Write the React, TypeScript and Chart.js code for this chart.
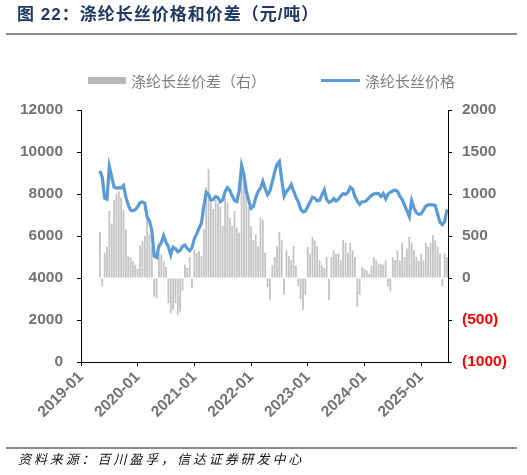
import React, { useEffect, useRef } from "react";
import { Chart, registerables } from "chart.js";

Chart.register(...registerables);

// Observations every half month, starting 2019-05-01
const START_YEAR = 2019;
const START_MONTH = 5;

// 涤纶长丝价格 (元/吨), left axis
const priceValues = [
  9100, 8800, 7800, 7750, 9300, 8820, 8330, 8280, 8300, 8280,
  8400, 7850, 7480, 7230, 7200, 7250, 7400, 7590, 7620, 7570,
  6900, 6720, 6250, 5050, 4980, 5520, 5680, 6020, 5710, 5480,
  5100, 5470, 5400, 5250, 5320, 5510, 5570, 5400, 5290, 5450,
  5880, 6100, 6370, 6620, 7420, 8080, 7980, 7700, 7740, 7880,
  7820, 7630, 7720, 8110, 8300, 8180, 7900, 7700, 7640, 8180,
  9350, 8930, 8120, 7700, 7320, 7400, 7830, 8130, 8270, 8600,
  8250, 7970, 8150, 8590, 9040, 9420, 9550, 8670, 7900, 8130,
  8240, 8450, 8150, 7850, 7640, 7290, 7150, 7180, 7400, 7620,
  7850, 7810, 7670, 7700, 7950, 8200, 7740, 7600, 7650, 7780,
  7660, 7750, 7900, 8020, 7980, 8080, 8330, 8230, 7880, 7660,
  7500, 7630, 7630, 7700, 7830, 7940, 8000, 8030, 8020, 7880,
  8020, 7770, 8000, 8080, 8140, 8190, 8130, 7900, 7740, 7470,
  7210, 6930, 7680, 7340, 7110, 7030, 7060, 7230, 7420, 7480,
  7480, 7480, 7450, 7050, 6650, 6540, 6700, 7270,
];

// 涤纶长丝价差 (元/吨), right axis
const spreadValues = [
  550, -100, 300, 370, 800, 650, 930, 1000, 1030, 960,
  810, 580, 260, 250, 200, 160, 110, 380, 440, 500,
  720, 520, 380, -220, -240, 300, 280, 200, 130, -300,
  -420, -380, -300, -440, -400, -150, 160, 120, 250, -120,
  340, 300, 320, 260, 580, 1080, 1300, 900, 820, 930,
  890, 850, 620, 970, 900, 720, 620, 800, 600, 540,
  1400, 1200, 1080, 850, 620, 450, 520, 380, 720, 690,
  300, -110, -260, 150, 250, 380, 550, 450, -200, 330,
  260, 210, 380, 150, -100, -250, -380, -200, 370, 290,
  490, 450, 380, 210, 150, 120, 250, -260, 250, 330,
  290, 290, 210, 450, 420, 300, 420, 330, 250, -340,
  -200, 130, 110, 90, 50, 150, 250, 210, 170, 170,
  160, 210, -100, -160, 250, 210, 330, 210, 420, 250,
  350, 490, 420, 330, 250, 200, 290, 210, 420, 370,
  420, 510, 450, 370, 290, -100, 290, 250,
];

const xTickLabels = ["2019-01", "2020-01", "2021-01", "2022-01", "2023-01", "2024-01", "2025-01"];
const leftTickRange = [0, 12000, 2000];
const rightTickRange = [-1000, 2000, 500];
const X_END = "2025-06-22";

const seriesNames = ["涤纶长丝价差（右）", "涤纶长丝价格"];

const dates = priceValues.map((_, i) => {
  const m = START_MONTH - 1 + Math.floor(i / 2);
  const y = START_YEAR + Math.floor(m / 12);
  const mm = (m % 12) + 1;
  const d = i % 2 === 0 ? 1 : 16;
  return `${y}-${String(mm).padStart(2, "0")}-${String(d).padStart(2, "0")}`;
});

// months since 2019-01-01
const toX = (s: string) => {
  const [y, m, d] = s.split("-").map(Number);
  return (y - 2019) * 12 + (m - 1) + (d - 1) / 30;
};

const GRAY = "#737373";
const TICK_FONT = { family: "'Liberation Sans', Arial, sans-serif", size: 15.5, weight: "bold" as const };

export default function App() {
  const ref = useRef<HTMLCanvasElement>(null);

  useEffect(() => {
    document.body.style.margin = "0";
    const axisGrid = {
      drawOnChartArea: false,
      drawTicks: true,
      tickLength: 4,
      color: "#000",
      lineWidth: 1,
    };
    const chart = new Chart(ref.current!, {
      type: "line",
      data: {
        datasets: [
          {
            type: "line",
            label: seriesNames[1],
            data: dates.map((d, i) => ({ x: toX(d), y: priceValues[i] })),
            yAxisID: "y",
            borderColor: "#5b9bd5",
            backgroundColor: "#5b9bd5",
            borderWidth: 3.2,
            pointRadius: 0,
            tension: 0,
            order: 1,
          } as any,
          {
            type: "bar",
            label: seriesNames[0],
            data: dates.map((d, i) => ({ x: toX(d), y: spreadValues[i] })),
            yAxisID: "y1",
            backgroundColor: "#c3c3c3",
            borderWidth: 0,
            barPercentage: 0.75,
            categoryPercentage: 1,
            order: 2,
          } as any,
        ],
      },
      options: {
        responsive: false,
        maintainAspectRatio: false,
        animation: false,
        layout: { padding: { top: 110, left: 0, right: 0, bottom: 0 } },
        plugins: { legend: { display: false }, tooltip: { enabled: false } },
        scales: {
          x: {
            type: "linear",
            min: 0,
            max: toX(X_END),
            offset: false,
            afterBuildTicks: (s: any) => {
              s.ticks = xTickLabels.map((l) => ({ value: toX(l + "-01") }));
            },
            afterFit: (s: any) => {
              s.height = 113;
            },
            ticks: {
              autoSkip: false,
              minRotation: 45,
              maxRotation: 45,
              color: GRAY,
              font: TICK_FONT,
              padding: 2,
              callback: (v: any) => {
                const idx = xTickLabels.findIndex((l) => Math.abs(toX(l + "-01") - Number(v)) < 0.01);
                return idx >= 0 ? xTickLabels[idx] : "";
              },
            },
            grid: { ...axisGrid, offset: false },
            border: { display: true, color: "#000", width: 1 },
          },
          y: {
            position: "left",
            min: leftTickRange[0],
            max: leftTickRange[1],
            afterFit: (s: any) => {
              s.width = 81;
            },
            ticks: {
              stepSize: leftTickRange[2],
              color: GRAY,
              font: TICK_FONT,
              padding: 14,
              callback: (v: any) => String(v),
            },
            grid: axisGrid,
            border: { display: true, color: "#000", width: 1 },
          },
          y1: {
            position: "right",
            min: rightTickRange[0],
            max: rightTickRange[1],
            afterFit: (s: any) => {
              s.width = 527 - 448;
            },
            ticks: {
              stepSize: rightTickRange[2],
              color: (ctx: any) => (ctx.tick && ctx.tick.value < 0 ? "#ff0000" : GRAY),
              font: TICK_FONT,
              padding: 10,
              callback: (v: any) => (Number(v) < 0 ? `(${-Number(v)})` : String(v)),
            },
            grid: axisGrid,
            border: { display: true, color: "#000", width: 1 },
          },
        },
      } as any,
    });
    return () => chart.destroy();
  }, []);

  const cjk = "'Noto Sans CJK SC', 'Liberation Sans', sans-serif";

  return (
    <div style={{ position: "relative", width: 527, height: 475, background: "#fff", overflow: "hidden" }}>
      <canvas ref={ref} width={527} height={475} style={{ position: "absolute", left: 0, top: 0, width: 527, height: 475 }} />
      <div
        style={{
          position: "absolute",
          left: 17,
          top: 3,
          fontFamily: "'Liberation Sans', 'Noto Sans CJK SC', sans-serif",
          fontWeight: "bold",
          fontSize: 17,
          letterSpacing: "1px",
          lineHeight: "24px",
          color: "#1f3864",
          whiteSpace: "nowrap",
        }}
      >
        图 22：涤纶长丝价格和价差（元/吨）
      </div>
      <div style={{ position: "absolute", left: 6, top: 33, width: 511, height: 2, background: "#8a8a8a" }} />
      <div style={{ position: "absolute", left: 88, top: 77, width: 38, height: 7, background: "#b8b8b8" }} />
      <div
        style={{
          position: "absolute",
          left: 131,
          top: 70,
          fontFamily: cjk,
          fontSize: 15,
          lineHeight: "22px",
          color: "#808080",
          whiteSpace: "nowrap",
        }}
      >
        {seriesNames[0]}
      </div>
      <div style={{ position: "absolute", left: 321, top: 79, width: 39, height: 3, background: "#5b9bd5" }} />
      <div
        style={{
          position: "absolute",
          left: 365,
          top: 70,
          fontFamily: cjk,
          fontSize: 15,
          lineHeight: "22px",
          color: "#808080",
          whiteSpace: "nowrap",
        }}
      >
        {seriesNames[1]}
      </div>
      <div style={{ position: "absolute", left: 6, top: 447, width: 511, height: 2, background: "#8a8a8a" }} />
      <div
        style={{
          position: "absolute",
          left: 18,
          top: 450,
          fontFamily: cjk,
          fontSize: 13,
          fontStyle: "italic",
          letterSpacing: "2.9px",
          lineHeight: "18px",
          color: "#111",
          whiteSpace: "nowrap",
        }}
      >
        资料来源：百川盈孚，信达证券研发中心
      </div>
    </div>
  );
}
